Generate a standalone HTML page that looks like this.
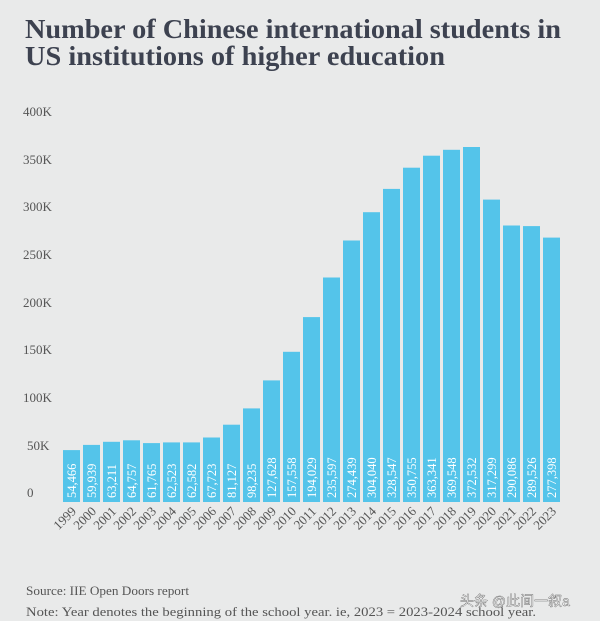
<!DOCTYPE html>
<html><head><meta charset="utf-8"><style>
html,body{margin:0;padding:0;background:#e9eaea;}
svg{display:block}
</style></head><body>
<svg width="600" height="621" viewBox="0 0 600 621" xmlns="http://www.w3.org/2000/svg">
<rect width="600" height="621" fill="#e9eaea"/>
<g font-family="Liberation Serif, serif" fill="#3d4250" font-size="27" font-weight="bold">
<text x="25" y="38" textLength="536" lengthAdjust="spacingAndGlyphs">Number of Chinese international students in</text>
<text x="25" y="65" textLength="420" lengthAdjust="spacingAndGlyphs">US institutions of higher education</text>
</g>
<g font-family="Liberation Serif, serif" fill="#555" font-size="13">
<text x="23" y="116">400K</text>
<text x="23" y="164">350K</text>
<text x="23" y="211">300K</text>
<text x="23" y="259">250K</text>
<text x="23" y="307">200K</text>
<text x="23" y="354">150K</text>
<text x="23" y="402">100K</text>
<text x="27" y="450">50K</text>
<text x="27" y="497">0</text>
</g>
<g fill="#54c4ea">
<rect x="63" y="450.1" width="17" height="51.9"/>
<rect x="83" y="444.9" width="17" height="57.1"/>
<rect x="103" y="441.8" width="17" height="60.2"/>
<rect x="123" y="440.3" width="17" height="61.7"/>
<rect x="143" y="443.1" width="17" height="58.9"/>
<rect x="163" y="442.4" width="17" height="59.6"/>
<rect x="183" y="442.4" width="17" height="59.6"/>
<rect x="203" y="437.5" width="17" height="64.5"/>
<rect x="223" y="424.7" width="17" height="77.3"/>
<rect x="243" y="408.4" width="17" height="93.6"/>
<rect x="263" y="380.4" width="17" height="121.6"/>
<rect x="283" y="351.8" width="17" height="150.2"/>
<rect x="303" y="317.1" width="17" height="184.9"/>
<rect x="323" y="277.5" width="17" height="224.5"/>
<rect x="343" y="240.5" width="17" height="261.5"/>
<rect x="363" y="212.2" width="17" height="289.8"/>
<rect x="383" y="188.9" width="17" height="313.1"/>
<rect x="403" y="167.7" width="17" height="334.3"/>
<rect x="423" y="155.7" width="17" height="346.3"/>
<rect x="443" y="149.8" width="17" height="352.2"/>
<rect x="463" y="147.0" width="17" height="355.0"/>
<rect x="483" y="199.6" width="17" height="302.4"/>
<rect x="503" y="225.5" width="17" height="276.5"/>
<rect x="523" y="226.1" width="17" height="275.9"/>
<rect x="543" y="237.6" width="17" height="264.4"/>
</g>
<g font-family="Liberation Serif, serif" font-size="12.5" fill="#fff">
<text transform="translate(76,498) rotate(-90)">54,466</text>
<text transform="translate(96,498) rotate(-90)">59,939</text>
<text transform="translate(116,498) rotate(-90)">63,211</text>
<text transform="translate(136,498) rotate(-90)">64,757</text>
<text transform="translate(156,498) rotate(-90)">61,765</text>
<text transform="translate(176,498) rotate(-90)">62,523</text>
<text transform="translate(196,498) rotate(-90)">62,582</text>
<text transform="translate(216,498) rotate(-90)">67,723</text>
<text transform="translate(236,498) rotate(-90)">81,127</text>
<text transform="translate(256,498) rotate(-90)">98,235</text>
<text transform="translate(276,498) rotate(-90)">127,628</text>
<text transform="translate(296,498) rotate(-90)">157,558</text>
<text transform="translate(316,498) rotate(-90)">194,029</text>
<text transform="translate(336,498) rotate(-90)">235,597</text>
<text transform="translate(356,498) rotate(-90)">274,439</text>
<text transform="translate(376,498) rotate(-90)">304,040</text>
<text transform="translate(396,498) rotate(-90)">328,547</text>
<text transform="translate(416,498) rotate(-90)">350,755</text>
<text transform="translate(436,498) rotate(-90)">363,341</text>
<text transform="translate(456,498) rotate(-90)">369,548</text>
<text transform="translate(476,498) rotate(-90)">372,532</text>
<text transform="translate(496,498) rotate(-90)">317,299</text>
<text transform="translate(516,498) rotate(-90)">290,086</text>
<text transform="translate(536,498) rotate(-90)">289,526</text>
<text transform="translate(556,498) rotate(-90)">277,398</text>
</g>
<g font-family="Liberation Serif, serif" font-size="13" fill="#555" text-anchor="end">
<text transform="translate(77,512) rotate(-45)">1999</text>
<text transform="translate(97,512) rotate(-45)">2000</text>
<text transform="translate(117,512) rotate(-45)">2001</text>
<text transform="translate(137,512) rotate(-45)">2002</text>
<text transform="translate(157,512) rotate(-45)">2003</text>
<text transform="translate(177,512) rotate(-45)">2004</text>
<text transform="translate(197,512) rotate(-45)">2005</text>
<text transform="translate(217,512) rotate(-45)">2006</text>
<text transform="translate(237,512) rotate(-45)">2007</text>
<text transform="translate(257,512) rotate(-45)">2008</text>
<text transform="translate(277,512) rotate(-45)">2009</text>
<text transform="translate(297,512) rotate(-45)">2010</text>
<text transform="translate(317,512) rotate(-45)">2011</text>
<text transform="translate(337,512) rotate(-45)">2012</text>
<text transform="translate(357,512) rotate(-45)">2013</text>
<text transform="translate(377,512) rotate(-45)">2014</text>
<text transform="translate(397,512) rotate(-45)">2015</text>
<text transform="translate(417,512) rotate(-45)">2016</text>
<text transform="translate(437,512) rotate(-45)">2017</text>
<text transform="translate(457,512) rotate(-45)">2018</text>
<text transform="translate(477,512) rotate(-45)">2019</text>
<text transform="translate(497,512) rotate(-45)">2020</text>
<text transform="translate(517,512) rotate(-45)">2021</text>
<text transform="translate(537,512) rotate(-45)">2022</text>
<text transform="translate(557,512) rotate(-45)">2023</text>
</g>
<g font-family="Liberation Serif, serif" fill="#555" font-size="12.5">
<text x="26" y="595" textLength="163" lengthAdjust="spacingAndGlyphs">Source: IIE Open Doors report</text>
<text x="26" y="616" textLength="510" lengthAdjust="spacingAndGlyphs">Note: Year denotes the beginning of the school year. ie, 2023 = 2023-2024 school year.</text>
</g>
<text x="460" y="606" font-family="Liberation Sans, Noto Sans CJK SC, sans-serif" font-size="14" fill="#fff" stroke="#666" stroke-width="0.4">头条 @此间一叙a</text>
</svg>
</body></html>
